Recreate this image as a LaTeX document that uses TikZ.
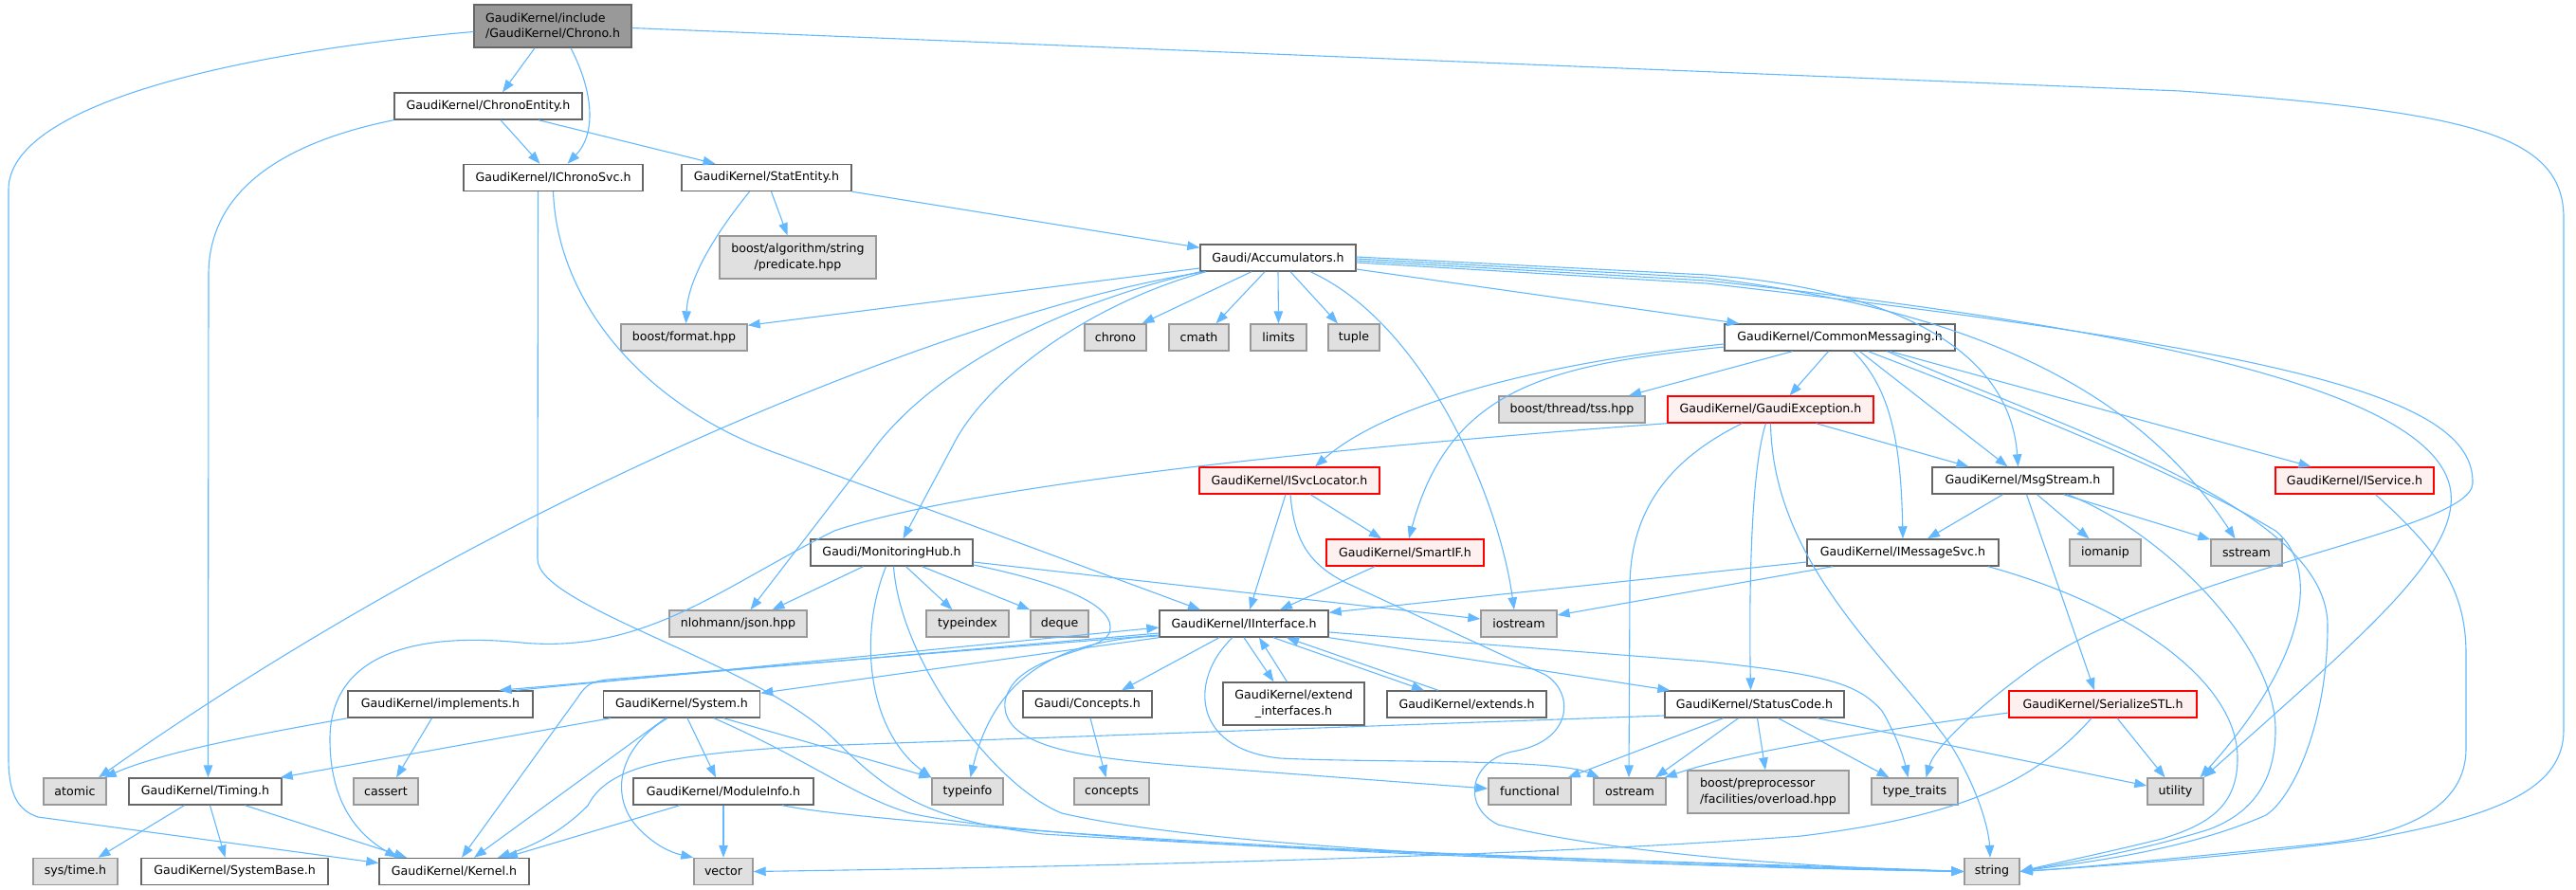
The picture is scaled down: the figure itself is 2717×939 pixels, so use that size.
\documentclass[tikz,border=0pt]{standalone}
\usepackage{fontspec}
\setmainfont{DejaVu Sans}
\usetikzlibrary{arrows.meta}
\definecolor{edgec}{HTML}{63B8FF}
\definecolor{wborder}{HTML}{666666}
\definecolor{gborder}{HTML}{999999}
\definecolor{gfill}{HTML}{E0E0E0}
\definecolor{rfill}{HTML}{FFF0F0}
\definecolor{mfill}{HTML}{999999}
\newcommand\gfont{\fontsize{12.6pt}{16.5pt}\selectfont}
\tikzset{
 nbase/.style={rectangle, line width=1.4pt, inner sep=0pt, minimum height=28pt, font=\gfont},
 wn/.style={nbase, draw=wborder, fill=white},
 gn/.style={nbase, draw=gborder, fill=gfill},
 rn/.style={nbase, draw=red, fill=rfill},
 mn/.style={nbase, draw=wborder, fill=mfill},
 conn/.style={draw=edgec, line width=1.1pt, -{Triangle[length=13pt,width=9.5pt]}},
}
\begin{document}
\begin{tikzpicture}[x=1pt,y=-1pt]
\useasboundingbox (0,0) rectangle (2717,939);
% nodes
\node[mn, minimum width=166pt, minimum height=45pt, align=left] (C0) at (583,27.5) {GaudiKernel/include\\/GaudiKernel/Chrono.h};
\node[wn, minimum width=198pt] (CE) at (515,112) {GaudiKernel/ChronoEntity.h};
\node[wn, minimum width=189pt] (ICS) at (583.5,187.5) {GaudiKernel/IChronoSvc.h};
\node[wn, minimum width=179pt] (SE) at (808.5,187.5) {GaudiKernel/StatEntity.h};
\node[gn, minimum width=165pt, minimum height=45pt, align=center] (P) at (841.5,271.5) {boost/algorithm/string\\/predicate.hpp};
\node[wn, minimum width=164pt] (A) at (1348,272) {Gaudi/Accumulators.h};
\node[gn, minimum width=133pt] (F) at (721.5,356) {boost/format.hpp};
\node[gn, minimum width=65pt] (chrono) at (1176.5,356) {chrono};
\node[gn, minimum width=63pt] (cmath) at (1264.5,356) {cmath};
\node[gn, minimum width=59pt] (limits) at (1348.5,356) {limits};
\node[gn, minimum width=54pt] (tuple) at (1428,356) {tuple};
\node[wn, minimum width=243pt] (CM) at (1940.5,356) {GaudiKernel/CommonMessaging.h};
\node[gn, minimum width=154pt] (tss) at (1658,432) {boost/thread/tss.hpp};
\node[rn, minimum width=217pt] (GE) at (1867.5,432) {GaudiKernel/GaudiException.h};
\node[rn, minimum width=190pt] (ISL) at (1360,507) {GaudiKernel/ISvcLocator.h};
\node[wn, minimum width=191pt] (MS) at (2133.5,507) {GaudiKernel/MsgStream.h};
\node[rn, minimum width=167pt] (ISV) at (2483.5,507) {GaudiKernel/IService.h};
\node[wn, minimum width=171pt] (MH) at (940.5,583) {Gaudi/MonitoringHub.h};
\node[rn, minimum width=166pt] (SIF) at (1482,583) {GaudiKernel/SmartIF.h};
\node[wn, minimum width=202pt] (IMS) at (2007,583) {GaudiKernel/IMessageSvc.h};
\node[gn, minimum width=75pt] (iomanip) at (2220.5,583) {iomanip};
\node[gn, minimum width=75pt] (SS) at (2369.5,583) {sstream};
\node[gn, minimum width=145pt] (json) at (778.5,658) {nlohmann/json.hpp};
\node[gn, minimum width=87pt] (typeindex) at (1020.5,658) {typeindex};
\node[gn, minimum width=61pt] (deque) at (1117.5,658) {deque};
\node[wn, minimum width=178pt] (II) at (1312,658) {GaudiKernel/IInterface.h};
\node[gn, minimum width=80pt] (IO) at (1602,658) {iostream};
\node[wn, minimum width=195pt] (IM) at (464.5,743) {GaudiKernel/implements.h};
\node[wn, minimum width=165pt] (SYS) at (719,743) {GaudiKernel/System.h};
\node[wn, minimum width=136pt] (CO) at (1147,743) {Gaudi/Concepts.h};
\node[wn, minimum width=149pt, minimum height=45pt, align=center] (EI) at (1364.5,742.5) {GaudiKernel/extend\\\_interfaces.h};
\node[wn, minimum width=168pt] (EX) at (1547,743) {GaudiKernel/extends.h};
\node[wn, minimum width=189pt] (STC) at (1850.5,743) {GaudiKernel/StatusCode.h};
\node[rn, minimum width=198pt] (SER) at (2218,743) {GaudiKernel/SerializeSTL.h};
\node[gn, minimum width=66pt] (atomic) at (79,835) {atomic};
\node[wn, minimum width=161pt] (T) at (216.5,835) {GaudiKernel/Timing.h};
\node[gn, minimum width=68pt] (cassert) at (407,835) {cassert};
\node[wn, minimum width=190pt] (MI) at (763,835) {GaudiKernel/ModuleInfo.h};
\node[gn, minimum width=75pt] (TI) at (1020.5,835) {typeinfo};
\node[gn, minimum width=79pt] (concepts) at (1172.5,835) {concepts};
\node[gn, minimum width=87pt] (func) at (1613.5,835) {functional};
\node[gn, minimum width=76pt] (OS) at (1719,835) {ostream};
\node[gn, minimum width=170pt, minimum height=45pt, align=left] (BPP) at (1865,835.5) {boost/preprocessor\\/facilities/overload.hpp};
\node[gn, minimum width=91pt] (TT) at (2019.5,835) {type\_traits};
\node[gn, minimum width=59pt] (U) at (2294.5,835) {utility};
\node[gn, minimum width=89pt] (systime) at (79.5,919.5) {sys/time.h};
\node[wn, minimum width=197pt] (SB) at (247.5,919.5) {GaudiKernel/SystemBase.h};
\node[wn, minimum width=158pt] (K) at (479,919.5) {GaudiKernel/Kernel.h};
\node[gn, minimum width=62pt] (vec) at (763,919.5) {vector};
\node[gn, minimum width=58pt] (S) at (2101,919.5) {string};
% Chrono.h
\draw[conn] ([xshift=-19pt]C0.south) -- ([xshift=15pt]CE.north);
\draw[conn] ([xshift=19pt]C0.south) .. controls (625,95) and (630,140) .. ([xshift=15pt]ICS.north);
\draw[conn] ([yshift=-6pt]C0.west) .. controls (250,55) and (9,110) .. (9,200) -- (9,800) .. controls (9,840) and (20,855) .. (40,862) -- ([yshift=9pt]K.west);
\draw[conn] ([yshift=-2pt]C0.east) -- (2300,96) .. controls (2600,118) and (2704,140) .. (2704,230) -- (2704,770) .. controls (2704,830) and (2640,860) .. (2500,885) .. controls (2350,905) and (2200,915) .. (S.east);
% ChronoEntity
\draw[conn] ([xshift=13pt]CE.south) -- ([xshift=-14pt]ICS.north);
\draw[conn] ([xshift=53pt]CE.south) -- ([xshift=-54pt]SE.north);
\draw[conn] (CE.south west) .. controls (300,150) and (220,200) .. (220,290) -- ([xshift=3pt]T.north);
% IChronoSvc
\draw[conn] (ICS.south) .. controls (588,320) and (680,430) .. (824,480) -- ([xshift=-46pt]II.north);
\draw[conn] ([xshift=-16pt]ICS.south) -- (567,590) .. controls (567,640) and (800,700) .. (880,780) .. controls (940,840) and (980,865) .. (1100,880) .. controls (1500,905) and (1900,912) .. (S.west);
% StatEntity
\draw[conn] ([xshift=-18pt]SE.south) .. controls (760,240) and (726,290) .. ([xshift=2pt]F.north);
\draw[conn] ([xshift=5pt]SE.south) -- ([xshift=-11pt]P.north);
\draw[conn] (SE.south east) -- ([yshift=-4pt]A.north west);
% Accumulators
\draw[conn] ([yshift=-11pt]A.west) -- ([yshift=-2pt]F.north east);
\draw[conn] ([xshift=-28pt]A.south) -- ([xshift=28pt]chrono.north);
\draw[conn] ([xshift=-14pt]A.south) -- ([xshift=18pt]cmath.north);
\draw[conn] (A.south) -- (limits.north);
\draw[conn] ([xshift=13pt]A.south) -- ([xshift=-17pt]tuple.north);
\draw[conn] ([xshift=-77pt]A.south) .. controls (1050,320) and (560,500) .. ([xshift=25pt]atomic.north);
\draw[conn] ([xshift=-82pt]A.south) .. controls (1120,320) and (980,390) .. (917,480) -- ([xshift=13pt]json.north);
\draw[conn] ([xshift=-76pt]A.south) .. controls (1150,320) and (1040,400) .. (1005,470) -- ([xshift=12pt]MH.north);
\draw[conn] ([xshift=34pt]A.south) .. controls (1500,340) and (1580,520) .. ([xshift=-5pt]IO.north);
\draw[conn] ([yshift=-12pt]A.east) -- ([xshift=16pt]CM.north west);
\draw[conn] ([yshift=1pt]A.east) -- (1800,290) .. controls (2000,305) and (2120,370) .. ([xshift=-5pt]MS.north);
\draw[conn] ([yshift=-1pt]A.east) -- (1800,293) .. controls (2100,330) and (2260,420) .. ([xshift=-12pt]SS.north);
\draw[conn] ([yshift=-3pt]A.east) -- (1800,296) .. controls (2300,350) and (2575,420) .. (2585,520) .. controls (2592,590) and (2480,680) .. ([xshift=30pt]U.north);
\draw[conn] ([yshift=-5pt]A.east) -- (1800,299) .. controls (2420,370) and (2610,420) .. (2608,510) .. controls (2606,560) and (2300,600) .. (2150,700) .. controls (2080,750) and (2040,790) .. ([xshift=12pt]TT.north);
% CommonMessaging
\draw[conn] ([xshift=-50pt]CM.south) -- ([xshift=60pt]tss.north);
\draw[conn] ([xshift=-12pt]CM.south) -- ([xshift=20pt]GE.north);
\draw[conn] ([yshift=-7pt]CM.west) .. controls (1650,380) and (1470,420) .. ([xshift=27pt]ISL.north);
\draw[conn] ([yshift=-10pt]CM.west) .. controls (1640,385) and (1530,405) .. ([xshift=4pt]SIF.north);
\draw[conn] ([xshift=14pt]CM.south) .. controls (1995,410) and (2005,470) .. (IMS.north);
\draw[conn] ([xshift=21pt]CM.south) -- ([xshift=-16pt]MS.north);
\draw[conn] ([xshift=30pt]CM.south) .. controls (2150,440) and (2300,500) .. (2400,560) .. controls (2450,600) and (2430,700) .. ([xshift=26pt]U.north);
\draw[conn] ([xshift=50pt]CM.south) .. controls (2200,460) and (2455,540) .. (2455,660) .. controls (2455,760) and (2420,840) .. (2390,860) .. controls (2300,900) and (2180,912) .. (S.east);
\draw[conn] ([xshift=53pt]CM.south) -- ([xshift=-46pt]ISV.north);
% GaudiException
\draw[conn] (GE.south west) .. controls (1300,480) and (1000,520) .. (880,560) .. controls (760,620) and (680,690) .. (550,678) .. controls (420,665) and (348,700) .. (348,780) .. controls (348,855) and (385,885) .. ([xshift=-60pt]K.north);
\draw[conn] ([xshift=-5pt]GE.south) .. controls (1845,500) and (1845,650) .. ([xshift=-4pt]STC.north);
\draw[conn] ([xshift=-30pt]GE.south) .. controls (1770,480) and (1719,530) .. (1719,620) -- ([xshift=-1pt]OS.north);
\draw[conn] (GE.south) .. controls (1870,600) and (2000,700) .. (2060,790) .. controls (2090,840) and (2098,880) .. ([xshift=-2pt]S.north);
\draw[conn] ([xshift=48pt]GE.south) -- ([xshift=-57pt]MS.north);
% ISvcLocator
\draw[conn] ([xshift=-4pt]ISL.south) -- ([xshift=6pt]II.north);
\draw[conn] ([xshift=22pt]ISL.south) -- ([xshift=-25pt]SIF.north);
\draw[conn] ([xshift=1pt]ISL.south) .. controls (1365,570) and (1380,595) .. (1420,615) -- (1630,712) .. controls (1660,730) and (1660,780) .. (1600,792) .. controls (1550,800) and (1540,850) .. (1580,870) .. controls (1700,900) and (1900,915) .. (S.west);
% SmartIF
\draw[conn] ([xshift=-32pt]SIF.south) -- ([xshift=38pt]II.north);
% MsgStream
\draw[conn] ([xshift=-21pt]MS.south) -- ([xshift=26pt]IMS.north);
\draw[conn] ([xshift=4pt]MS.south) -- ([xshift=-9pt]SER.north);
\draw[conn] ([xshift=15pt]MS.south) -- ([xshift=-17pt]iomanip.north);
\draw[conn] ([xshift=43pt]MS.south) -- ([yshift=-1pt]SS.north west);
\draw[conn] ([xshift=47pt]MS.south) .. controls (2280,560) and (2400,680) .. (2400,770) .. controls (2400,830) and (2370,860) .. (2330,875) .. controls (2250,900) and (2180,910) .. (S.east);
% IMessageSvc
\draw[conn] ([yshift=-10pt]IMS.west) -- ([yshift=-3pt]II.north east);
\draw[conn] ([xshift=-74pt]IMS.south) -- ([yshift=9pt]IO.east);
\draw[conn] ([xshift=90pt]IMS.south) .. controls (2250,640) and (2360,720) .. (2360,800) .. controls (2360,850) and (2330,870) .. (2280,885) .. controls (2220,900) and (2170,910) .. (S.east);
% IService
\draw[conn] ([xshift=22pt]ISV.south) .. controls (2570,580) and (2601,620) .. (2601,690) -- (2601,790) .. controls (2601,850) and (2540,880) .. (2450,890) .. controls (2300,905) and (2200,915) .. (S.east);
% MonitoringHub
\draw[conn] ([xshift=15pt]MH.south) -- ([xshift=-16pt]typeindex.north);
\draw[conn] ([xshift=32pt]MH.south) -- (deque.north west);
\draw[conn] ([yshift=-10pt]MH.east) -- ([yshift=5pt]IO.west);
\draw[conn] ([xshift=-30pt]MH.south) -- ([xshift=36pt]json.north);
\draw[conn] ([xshift=-6pt]MH.south) .. controls (905,670) and (915,770) .. (TI.north west);
\draw[conn] ([yshift=-13pt]MH.east) .. controls (1120,615) and (1180,640) .. (1170,668) .. controls (1160,690) and (1070,690) .. (1060,740) .. controls (1055,790) and (1150,800) .. (1250,808) -- ([yshift=3pt]func.west);
\draw[conn] ([xshift=2pt]MH.south) .. controls (950,700) and (1050,830) .. (1120,858) .. controls (1300,900) and (1800,915) .. (S.west);
% IInterface
\draw[conn] (II.south) -- ([xshift=-21pt]EI.north);
\draw[conn] ([xshift=-7pt]EI.north) -- ([xshift=16pt]II.south);
\draw[conn] ([xshift=31pt]II.south) -- ([xshift=-45pt]EX.north);
\draw[conn] ([xshift=-30pt]EX.north) -- ([xshift=45pt]II.south);
\draw[conn] (II.south east) -- ([xshift=6pt]STC.north west);
\draw[conn] ([yshift=-9pt]II.east) -- (1800,698) .. controls (1930,712) and (1960,722) .. (1985,750) .. controls (2000,775) and (2008,800) .. ([xshift=-7pt]TT.north);
\draw[conn] ([xshift=-26pt]II.south) -- ([xshift=36pt]CO.north);
\draw[conn] ([xshift=-12pt]II.south) .. controls (1255,715) and (1255,790) .. (1350,800) .. controls (1450,805) and (1640,800) .. ([xshift=-32pt]OS.north);
\draw[conn] ([yshift=-10pt]II.west) -- ([xshift=62pt]IM.north);
\draw[conn] ([xshift=80pt]IM.north) -- ([yshift=-4pt]II.west);
\draw[conn] ([yshift=-12pt]II.west) -- (640,717) .. controls (625,719) and (618,722) .. (610,735) -- ([xshift=8pt]K.north);
\draw[conn] (II.south west) -- ([yshift=-3pt]SYS.north east);
\draw[conn] ([yshift=-13pt]II.west) .. controls (1120,675) and (1050,710) .. ([xshift=3pt]TI.north);
% StatusCode
\draw[conn] ([yshift=-12pt]STC.west) -- (860,787) .. controls (700,795) and (640,810) .. (620,850) .. controls (590,880) and (560,893) .. ([xshift=46pt]K.north);
\draw[conn] ([xshift=-33pt]STC.south) -- ([xshift=-4pt]func.north east);
\draw[conn] ([xshift=-17pt]STC.south) -- ([xshift=27pt]OS.north);
\draw[conn] ([xshift=3pt]STC.south) -- ([xshift=-3pt]BPP.north);
\draw[conn] ([xshift=25pt]STC.south) -- ([xshift=-27pt]TT.north);
\draw[conn] ([xshift=66pt]STC.south) -- ([yshift=6pt]U.west);
% SerializeSTL
\draw[conn] ([xshift=15pt]SER.south) -- ([xshift=-11pt]U.north);
\draw[conn] ([yshift=-9pt]SER.west) .. controls (1950,775) and (1830,795) .. ([xshift=-2pt]OS.north east);
\draw[conn] ([xshift=-12pt]SER.south) .. controls (2150,820) and (2080,860) .. (1900,882) .. controls (1600,905) and (1100,915) .. (vec.east);
% System
\draw[conn] ([xshift=-75pt]SYS.south) -- ([xshift=-2pt]T.north east);
\draw[conn] ([xshift=-17pt]SYS.south) -- ([xshift=21pt]K.north);
\draw[conn] ([xshift=-15pt]SYS.south) .. controls (650,790) and (645,840) .. (670,870) .. controls (690,893) and (710,900) .. (vec.north west);
\draw[conn] ([xshift=6pt]SYS.south) -- ([xshift=-8pt]MI.north);
\draw[conn] ([xshift=44pt]SYS.south) -- (TI.north west);
\draw[conn] ([xshift=34pt]SYS.south) .. controls (850,800) and (900,840) .. (960,858) .. controls (1100,890) and (1700,912) .. (S.west);
% ModuleInfo
\draw[conn] ([xshift=-46pt]MI.south) -- ([xshift=54pt]K.north);
\draw[conn] (MI.south) -- (vec.north);
\draw[conn] ([xshift=62pt]MI.south) .. controls (900,865) and (1200,885) .. (1400,895) .. controls (1700,908) and (1900,915) .. (S.west);
% Timing
\draw[conn] ([xshift=-22pt]T.south) -- ([xshift=24pt]systime.north);
\draw[conn] ([xshift=5pt]T.south) -- ([xshift=-10pt]SB.north);
\draw[conn] ([xshift=42pt]T.south) -- ([xshift=-50pt]K.north);
% implements
\draw[conn] (IM.south west) .. controls (300,770) and (180,790) .. ([xshift=-3pt]atomic.north east);
\draw[conn] ([xshift=-9pt]IM.south) -- ([xshift=11pt]cassert.north);
% Concepts
\draw[conn] ([xshift=3pt]CO.south) -- ([xshift=-6pt]concepts.north);
\end{tikzpicture}
\end{document}
